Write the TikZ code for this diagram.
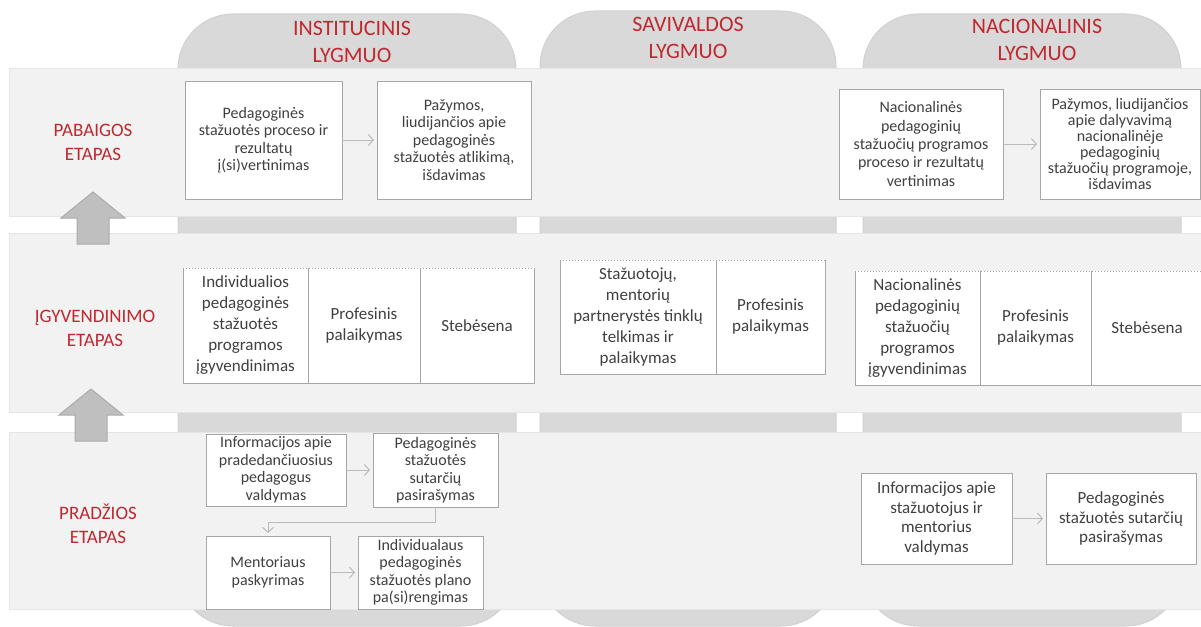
\documentclass[tikz,border=0pt]{standalone}
\usepackage{fontspec}
\setmainfont{Carlito}
\usetikzlibrary{positioning,arrows.meta}
\definecolor{lvlred}{RGB}{192,40,48}
\definecolor{colgray}{RGB}{217,217,217}
\definecolor{bandgray}{RGB}{242,242,242}
\definecolor{linegray}{RGB}{166,166,166}
\definecolor{txtgray}{RGB}{64,64,64}

\begin{document}
\begin{tikzpicture}[x=1pt,y=-1pt,
  column/.style={fill=colgray, draw=black!18, line width=1pt, rounded corners=55pt},
  band/.style={fill=bandgray, draw=black!10, line width=1pt},
  level/.style={text=lvlred, align=center, font=\fontsize{22}{26.5}\selectfont},
  stage/.style={text=lvlred, align=center, font=\fontsize{19}{24}\selectfont},
  wh/.style 2 args={minimum width=#1pt, minimum height=#2pt},
  box/.style={draw=linegray, line width=1pt, fill=white, text=txtgray, align=center,
    inner sep=0pt, outer sep=0pt, font=\fontsize{16}{17.5}\selectfont},
  cell/.style={fill=white, text=txtgray, align=center, inner sep=0pt, outer sep=0pt,
    font=\fontsize{17}{21}\selectfont},
  edge/.style={draw=linegray, line width=1pt},
  flow/.style={draw=black!27, line width=1pt, shorten >=3pt,
    -{Straight Barb[length=5pt,width=11pt]}},
  uparrow/.style={fill=black!25, draw=black!33, line width=1pt}]
\useasboundingbox (0,0) rectangle (1201,626);

\draw[column] (178,14) rectangle (516,626);
\draw[column] (540,11) rectangle (836,626);
\draw[column] (863,14) rectangle (1181,626);

\draw[band] (9.5,68) rectangle (1215,216);
\draw[band] (9.5,233) rectangle (1215,412);
\draw[band] (9.5,432) rectangle (1215,609);

\foreach \ty/\cx in {192/93,389/91}
  \draw[uparrow] (\cx-16,\ty+52) -- (\cx-16,\ty+26) -- (\cx-32,\ty+26) -- (\cx,\ty)
    -- (\cx+32,\ty+26) -- (\cx+16,\ty+26) -- (\cx+16,\ty+52) -- cycle;

\node[level] (inst) at (352,42) {INSTITUCINIS\\LYGMUO};
\node[level] (saviv) at (688,38) {SAVIVALDOS\\LYGMUO};
\node[level] (nacio) at (1037,40) {NACIONALINIS\\LYGMUO};

\node[stage] (pabaig) at (93,142) {PABAIGOS\\ETAPAS};
\node[stage] (igyv) at (95,328) {ĮGYVENDINIMO\\ETAPAS};
\node[stage] (pradz) at (98,524) {PRADŽIOS\\ETAPAS};

\node[box, wh={157}{118}] (ivert) at (263.5,140)
  {Pedagoginės\\stažuotės proceso ir\\rezultatų\\į(si)vertinimas};
\node[box, wh={154}{118}] (pazym) at (454,140)
  {Pažymos,\\liudijančios apie\\pedagoginės\\stažuotės atlikimą,\\išdavimas};
\node[box, wh={164}{110}, font=\fontsize{16}{18.3}\selectfont] (nvert) at (921,144)
  {Nacionalinės\\pedagoginių\\stažuočių programos\\proceso ir rezultatų\\vertinimas};
\node[box, wh={160}{110}, font=\fontsize{16}{16}\selectfont] (npazym) at (1120,144)
  {Pažymos, liudijančios\\apie dalyvavimą\\nacionalinėje\\pedagoginių\\stažuočių programoje,\\išdavimas};
\draw[flow] (ivert) -- (pazym);
\draw[flow] (nvert) -- (npazym);

\node[cell, wh={125}{115}] (ig1) at (245.5,325.5)
  {Individualios\\pedagoginės\\stažuotės\\programos\\įgyvendinimas};
\node[cell, wh={112}{115}, right=0pt of ig1] (ig2) {Profesinis\\palaikymas};
\node[cell, wh={114}{115}, right=0pt of ig2] (ig3) {Stebėsena};
\draw[edge] (ig1.north west) -- (ig1.south west) -- (ig3.south east) -- (ig3.north east);
\draw[edge] (ig1.north east) -- (ig1.south east) (ig2.north east) -- (ig2.south east);
\draw[edge, dotted] (ig1.north west) -- (ig3.north east);

\node[cell, wh={156}{114}] (sv1) at (638,317)
  {Stažuotojų,\\mentorių\\partnerystės tinklų\\telkimas ir\\palaikymas};
\node[cell, wh={109}{114}, right=0pt of sv1] (sv2) {Profesinis\\palaikymas};
\draw[edge] (sv1.north west) -- (sv1.south west) -- (sv2.south east) -- (sv2.north east);
\draw[edge] (sv1.north east) -- (sv1.south east);
\draw[edge, dotted] (sv1.north west) -- (sv2.north east);

\node[cell, wh={125}{114}] (ng1) at (917.5,328)
  {Nacionalinės\\pedagoginių\\stažuočių\\programos\\įgyvendinimas};
\node[cell, wh={111}{114}, right=0pt of ng1] (ng2) {Profesinis\\palaikymas};
\node[cell, wh={112}{114}, right=0pt of ng2] (ng3) {Stebėsena};
\draw[edge] (ng1.north west) -- (ng1.south west) -- (ng3.south east) -- (ng3.north east);
\draw[edge] (ng1.north east) -- (ng1.south east) (ng2.north east) -- (ng2.south east);
\draw[edge, dotted] (ng1.north west) -- (ng3.north east);

\node[box, wh={140}{72}] (info) at (276,470)
  {Informacijos apie\\pradedančiuosius\\pedagogus\\valdymas};
\node[box, wh={125}{74}] (sutart) at (435.5,470)
  {Pedagoginės\\stažuotės\\sutarčių\\pasirašymas};
\node[box, wh={124}{73}] (mentor) at (268,572.5) {Mentoriaus\\paskyrimas};
\node[box, wh={125}{73}] (planas) at (420.5,572.5)
  {Individualaus\\pedagoginės\\stažuotės plano\\pa(si)rengimas};
\draw[flow] (info) -- (sutart);
\draw[flow] (sutart.south) -- ++(0,15) -| (mentor.north);
\draw[flow] (mentor) -- (planas);

\node[box, wh={151}{91}, font=\fontsize{17}{19.5}\selectfont] (ninfo) at (936.5,518.5)
  {Informacijos apie\\stažuotojus ir\\mentorius\\valdymas};
\node[box, wh={150}{91}, font=\fontsize{17}{19.5}\selectfont] (nsutart) at (1121,518.5)
  {Pedagoginės\\stažuotės sutarčių\\pasirašymas};
\draw[flow] (ninfo) -- (nsutart);
\end{tikzpicture}
\end{document}
